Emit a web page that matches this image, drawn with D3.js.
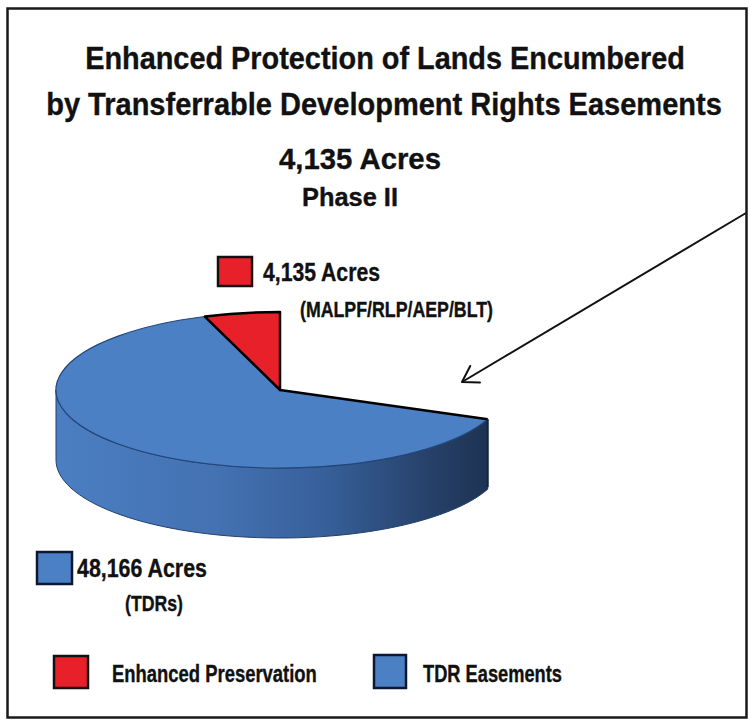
<!DOCTYPE html>
<html>
<head>
<meta charset="utf-8">
<script src="https://cdn.jsdelivr.net/npm/d3@7/dist/d3.min.js"></script>
<style>
  html, body { margin: 0; padding: 0; background: #fff; }
  svg { display: block; }
  text { font-family: "Liberation Sans Narrow", "Arial Narrow", "Liberation Sans", Arial, sans-serif; font-weight: bold; fill: #111; stroke: #111; stroke-width: 0.35px; }
</style>
</head>
<body>
<svg id="chart" width="750" height="723"></svg>
<script>
// ---- data ----
const categories = ["TDR Easements", "Enhanced Preservation"];
const acres = [48166, 4135];
const acreLabels = ["48,166 Acres", "4,135 Acres"];
const programNotes = ["(TDRs)", "(MALPF/RLP/AEP/BLT)"];
const sliceColors = ["#4c80c4", "#e8202a"];
const titleLines = [
  "Enhanced Protection of Lands Encumbered",
  "by Transferrable Development Rights Easements"
];
const totalLabel = "4,135 Acres";
const phaseLabel = "Phase II";

// ---- layout ----
const svg = d3.select("#chart");
const deg = Math.PI / 180;

// frame
svg.append("rect")
  .attr("x", 7.5).attr("y", 8.5).attr("width", 739).attr("height", 709)
  .attr("fill", "none").attr("stroke", "#1a1a1a").attr("stroke-width", 2.5);

// condensed bold text: set at full size, then narrowed horizontally to a run length
function addText(str, x, y, size, len, anchor) {
  const g = svg.append("g");
  const t = g.append("text")
    .attr("x", 0).attr("y", 0)
    .attr("font-size", size)
    .attr("text-anchor", anchor || "start")
    .text(str);
  const natural = t.node().getComputedTextLength();
  const sx = len && natural > 0 ? len / natural : 1;
  g.attr("transform", `translate(${x},${y}) scale(${sx},1)`);
  return t;
}
addText(titleLines[0], 385, 69, 31, 600, "middle");
addText(titleLines[1], 384, 115, 31, 676, "middle");
addText(totalLabel, 360, 169, 30, 162, "middle");
addText(phaseLabel, 350, 206, 25, 96, "middle");

// ---- 3D pie ----
const cx = 280, cy = 390, rx = 224, ry = 78, depth = 70;

const pie = d3.pie().sort(null).value(d => d.value)
  .startAngle(112 * deg).endAngle(360 * deg);
const slices = pie(categories.map((c, i) => ({ name: c, value: acres[i], color: sliceColors[i] })));

const pt = (t, dy) => [cx + rx * Math.sin(t), cy - ry * Math.cos(t) + (dy || 0)];

// side wall gradient (lit at left, shaded to the right)
const defs = svg.append("defs");
const grad = defs.append("linearGradient")
  .attr("id", "wallGrad").attr("gradientUnits", "userSpaceOnUse")
  .attr("x1", cx - rx).attr("y1", 0).attr("x2", cx + rx).attr("y2", 0);
grad.append("stop").attr("offset", "0%").attr("stop-color", "#4b7ec2");
grad.append("stop").attr("offset", "35%").attr("stop-color", "#4472b3");
grad.append("stop").attr("offset", "60%").attr("stop-color", "#37609a");
grad.append("stop").attr("offset", "85%").attr("stop-color", "#253f66");
grad.append("stop").attr("offset", "100%").attr("stop-color", "#1c2f4d");

const lineGen = d3.line();

// outer walls: only the front half of each slice's rim is visible
slices.forEach(s => {
  const a0 = Math.max(s.startAngle, 90 * deg);
  const a1 = Math.min(s.endAngle, 270 * deg);
  if (a1 <= a0) return;
  const steps = d3.range(0, 61).map(i => a0 + (a1 - a0) * i / 60);
  const top = steps.map(t => pt(t, 0));
  const bottom = steps.slice().reverse().map(t => pt(t, depth));
  svg.append("path")
    .attr("d", lineGen(top.concat(bottom)) + "Z")
    .attr("fill", s.data.color === sliceColors[0] ? "url(#wallGrad)" : d3.color(s.data.color).darker(0.6))
    .attr("stroke", "#22406c").attr("stroke-width", 1);
});

// top faces
const arc = d3.arc().innerRadius(0).outerRadius(rx);
const topG = svg.append("g")
  .attr("transform", `translate(${cx},${cy}) scale(1,${ry / rx})`);
slices.forEach((s, i) => {
  topG.append("path")
    .attr("d", arc(s))
    .attr("fill", s.data.color)
    .attr("stroke", i === 1 ? "#000" : "#24467a")
    .attr("stroke-width", i === 1 ? 2.5 : 1.2)
    .attr("stroke-linejoin", "round")
    .attr("vector-effect", "non-scaling-stroke");
});

// dark cut edge where the TDR slice opens
svg.append("path")
  .attr("d", lineGen([[cx, cy], pt(slices[0].startAngle, 0)]))
  .attr("stroke", "#000").attr("stroke-width", 2.5).attr("fill", "none");
svg.append("path")
  .attr("d", lineGen([pt(slices[0].startAngle, 0), pt(slices[0].startAngle, depth - 2)]))
  .attr("stroke", "#14243c").attr("stroke-width", 2).attr("fill", "none");

// ---- slice labels ----
function swatch(x, y, w, h, color, stroke) {
  svg.append("rect").attr("x", x).attr("y", y).attr("width", w).attr("height", h)
    .attr("fill", color).attr("stroke", stroke || "#111").attr("stroke-width", 2.5);
}
swatch(218, 257, 34, 29, sliceColors[1]);
addText(acreLabels[1], 263, 281, 25, 117);
addText(programNotes[1], 300, 317, 22, 193);

swatch(37, 552, 35, 32, sliceColors[0], "#0d1830");
addText(acreLabels[0], 77, 577, 26, 130);
addText(programNotes[0], 125, 611, 22, 58);

// ---- legend ----
swatch(54, 656, 34, 32, sliceColors[1]);
addText(categories[1], 112, 682, 23, 205);
swatch(374, 655, 32, 33, sliceColors[0], "#0d1830");
addText(categories[0], 423, 682, 23, 139);

// ---- pointer arrow ----
const tip = [462, 382], tail = [746, 213];
svg.append("path").attr("d", lineGen([tail, tip]))
  .attr("stroke", "#111").attr("stroke-width", 2).attr("fill", "none");
const ang = Math.atan2(tail[1] - tip[1], tail[0] - tip[0]);
const headLen = 18, spread = 32 * deg;
const h1 = [tip[0] + headLen * Math.cos(ang - spread), tip[1] + headLen * Math.sin(ang - spread)];
const h2 = [tip[0] + headLen * Math.cos(ang + spread), tip[1] + headLen * Math.sin(ang + spread)];
svg.append("path").attr("d", lineGen([h1, tip, h2]))
  .attr("stroke", "#111").attr("stroke-width", 2).attr("fill", "none")
  .attr("stroke-linejoin", "round").attr("stroke-linecap", "round");
</script>
</body>
</html>
